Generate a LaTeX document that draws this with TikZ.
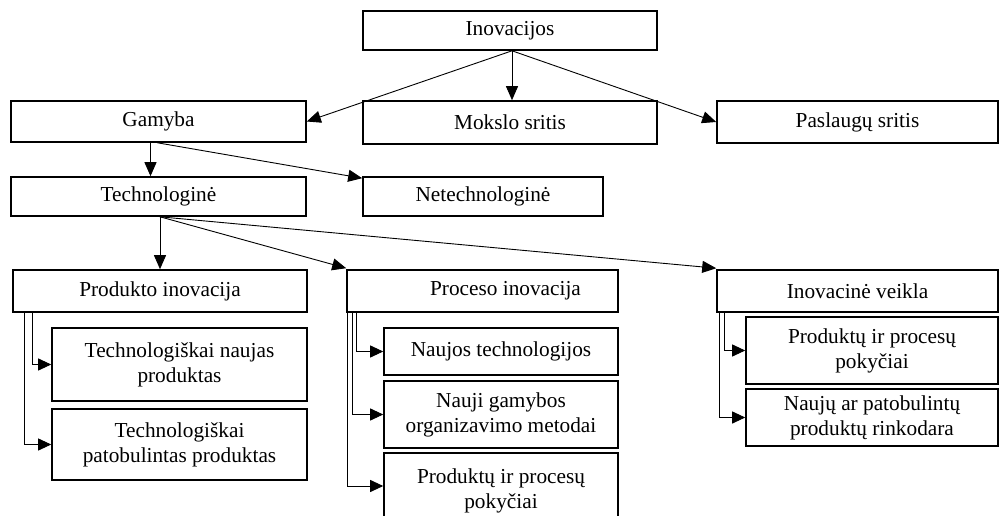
\documentclass[tikz,border=0pt]{standalone}
\usepackage{fontspec}
\setmainfont{Liberation Serif}
\usetikzlibrary{arrows.meta}
\begin{document}
\begin{tikzpicture}[x=1pt,y=-1pt,
  box/.style={draw, line width=1.6pt, align=center, inner sep=0pt,
    font=\fontsize{21.3}{25}\selectfont},
  arr/.style={line width=0.9pt, -{Triangle[length=14pt,width=12pt]}},
  sarr/.style={line width=0.9pt, -{Triangle[length=13pt,width=12pt]}}]
\useasboundingbox (0,0) rectangle (1000,516);
\clip (0,0) rectangle (1000,516);
\fill[white] (0,0) rectangle (1000,516);
% top levels
\node[box, minimum width=294pt, minimum height=39pt] (ino) at (510,30.5) {Inovacijos};
\node[box, minimum width=295pt, minimum height=41pt] (gam) at (158.5,121.5) {Gamyba};
\node[box, minimum width=294pt, minimum height=43pt] (mok) at (510,122.5) {Mokslo sritis};
\node[box, minimum width=281pt, minimum height=42pt] (pas) at (857.5,122) {Paslaugų sritis};
\node[box, minimum width=295pt, minimum height=39pt] (tech) at (158.5,196.5) {Technologinė};
\node[box, minimum width=240pt, minimum height=39pt] (net) at (483,196.5) {Netechnologinė};
% third level
\node[box, minimum width=294pt, minimum height=42pt] (prod) at (160,291) {Produkto inovacija};
\node[box, minimum width=271pt, minimum height=42pt] (proc) at (482.5,291) {\hspace*{46pt}Proceso inovacija};
\node[box, minimum width=281pt, minimum height=42pt] (inv) at (857.5,291) {Inovacinė veikla};
% sub boxes
\node[box, minimum width=255pt, minimum height=73pt] (tn) at (179.5,364.5) {Technologiškai naujas\\produktas};
\node[box, minimum width=255pt, minimum height=71pt] (tp) at (179.5,444.5) {Technologiškai\\patobulintas produktas};
\node[box, minimum width=234pt, minimum height=47pt] (pn) at (501,351.5) {Naujos technologijos};
\node[box, minimum width=234pt, minimum height=67pt] (pg) at (501,414.5) {Nauji gamybos\\organizavimo metodai};
\node[box, minimum width=234pt, minimum height=76pt] (pp) at (501,491) {Produktų ir procesų\\pokyčiai};
\node[box, minimum width=252pt, minimum height=67pt] (ip) at (872,350.5) {Produktų ir procesų\\pokyčiai};
\node[box, minimum width=252pt, minimum height=57pt] (ir) at (872,417.5) {Naujų ar patobulintų\\produktų rinkodara};
% connectors top
\draw[arr] ([xshift=2pt]ino.south) -- (gam.east);
\draw[arr] ([xshift=2pt]ino.south) -- ([xshift=2pt]mok.north);
\draw[arr] ([xshift=2pt]ino.south) -- (pas.west);
\draw[arr] ([xshift=-8pt]gam.south) -- ([xshift=-8pt]tech.north);
\draw[arr] ([xshift=-1pt]gam.south) -- ([yshift=-2pt]net.north west);
\draw[arr] ([xshift=1.5pt]tech.south) -- (prod.north);
\draw[arr] ([xshift=1.5pt]tech.south) -- ([yshift=1pt]proc.north west);
\draw[arr] ([xshift=1.5pt]tech.south) -- ([yshift=1pt]inv.north west);
% sub connectors
\draw[sarr] ([xshift=20pt]prod.south west) |- (tn.west);
\draw[sarr] ([xshift=12pt]prod.south west) |- (tp.west);
\draw[sarr] ([xshift=10pt]proc.south west) |- (pn.west);
\draw[sarr] ([xshift=6pt]proc.south west) |- (pg.west);
\draw[sarr] ([xshift=1pt]proc.south west) |- ([yshift=5pt]pp.west);
\draw[sarr] ([xshift=8pt]inv.south west) |- (ip.west);
\draw[sarr] ([xshift=3pt]inv.south west) |- (ir.west);
\end{tikzpicture}
\end{document}
